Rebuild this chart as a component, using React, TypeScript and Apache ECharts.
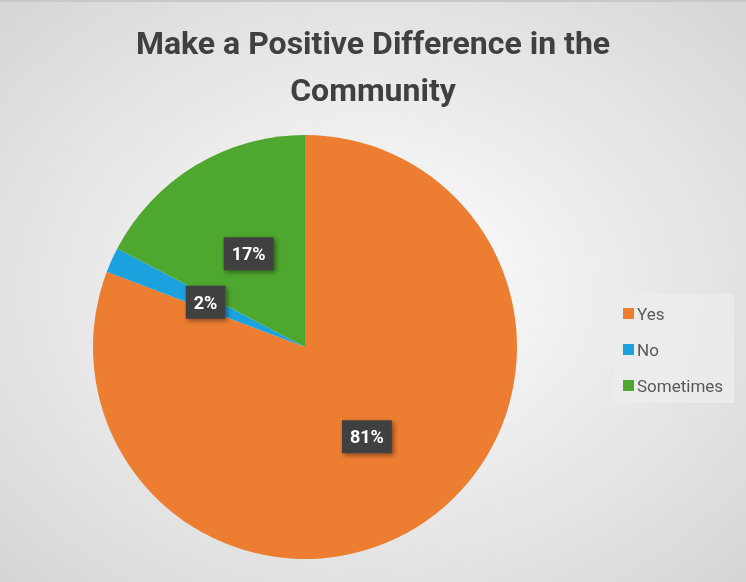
import React, { useEffect, useRef } from "react";
import * as echarts from "echarts";

const categories = ["Yes", "No", "Sometimes"];
const counts = [42, 1, 9];
const colors = ["#ED7D31", "#1BA1DE", "#4EA72E"];
const titleText = "Make a Positive Difference in the\nCommunity";

export default function App() {
  const ref = useRef<HTMLDivElement>(null);
  useEffect(() => {
    if (!ref.current) return;
    const chart = echarts.init(ref.current, null, { renderer: "svg" });
    chart.setOption({
      animation: false,
      backgroundColor: {
        type: "radial",
        x: 0.5,
        y: 0.5,
        r: 0.75,
        colorStops: [
          { offset: 0, color: "#ffffff" },
          { offset: 1, color: "#d3d3d3" },
        ],
      },
      graphic: [
        {
          type: "rect",
          z: 0,
          shape: { x: 613, y: 294, width: 121, height: 109 },
          style: { fill: "rgba(236,236,236,0.85)" },
        },
        {
          type: "rect",
          z: 0,
          shape: { x: 0, y: 0, width: 746, height: 2 },
          style: { fill: "#c8c8c8" },
        },
      ],
      title: {
        text: titleText,
        left: "center",
        top: 14,
        textStyle: {
          fontFamily: "Roboto",
          fontWeight: "bold",
          fontSize: 32,
          lineHeight: 47,
          color: "#404040",
        },
      },
      legend: {
        orient: "vertical",
        left: 613,
        top: 294,
        itemWidth: 11,
        itemHeight: 11,
        itemGap: 19,
        padding: [11, 10, 12, 10],
        icon: "rect",
        textStyle: { fontFamily: "Roboto", fontSize: 17, color: "#595959", padding: [0, 0, 0, -2] },
        data: categories,
      },
      series: [
        {
          type: "pie",
          center: [305, 347],
          radius: 212,
          startAngle: 90,
          clockwise: true,
          percentPrecision: 0,
          data: categories.map((c, i) => ({ name: c, value: counts[i], itemStyle: { color: colors[i] } })),
          label: {
            show: true,
            position: "inside",
            formatter: "{d}%",
            fontFamily: "Roboto",
            fontWeight: "bold",
            fontSize: 18,
            color: "#ffffff",
            backgroundColor: "#404040",
            padding: [8, 8, 7, 8],
            shadowColor: "rgba(0,0,0,0.45)",
            shadowBlur: 5,
            shadowOffsetX: 2,
            shadowOffsetY: 2,
          },
          labelLine: { show: false },
        },
      ],
    });
    return () => chart.dispose();
  }, []);
  return <div ref={ref} style={{ width: 746, height: 582, position: "fixed", left: 0, top: 0 }} />;
}
